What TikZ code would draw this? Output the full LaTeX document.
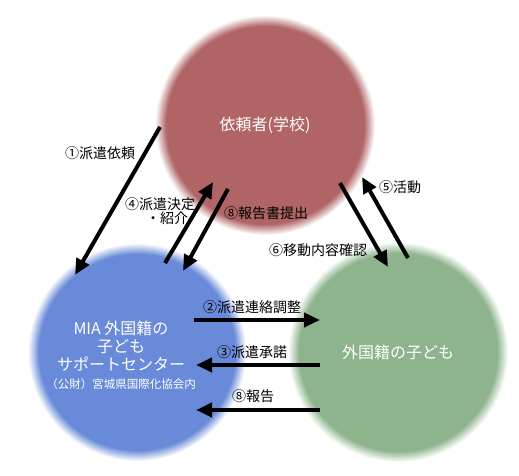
\documentclass[tikz,border=0pt]{standalone}
\usepackage{fontspec}
\setmainfont{Noto Sans CJK JP}
\usepackage{tikz}
\usetikzlibrary{arrows.meta, positioning, calc}
\definecolor{REQ}{HTML}{B06466}
\definecolor{MIA}{HTML}{688AD8}
\definecolor{KID}{HTML}{8DB48D}
% soft edged discs, full colour up to 22.5bp then fading out to white
\pgfdeclareradialshading{REQfade}{\pgfpoint{0bp}{0bp}}{color(0bp)=(REQ);color(22.5bp)=(REQ);color(25bp)=(white);color(50bp)=(white)}
\pgfdeclareradialshading{MIAfade}{\pgfpoint{0bp}{0bp}}{color(0bp)=(MIA);color(22.5bp)=(MIA);color(25bp)=(white);color(50bp)=(white)}
\pgfdeclareradialshading{KIDfade}{\pgfpoint{0bp}{0bp}}{color(0bp)=(KID);color(22.5bp)=(KID);color(25bp)=(white);color(50bp)=(white)}
\tikzset{
  party/.style={% Style for the three round parties
      circle,
      minimum size=220pt,
      inner sep=0pt,
      align=center,
      text=white,
      font=\fontsize{16}{18}\selectfont,
      shade,
      shading=#1fade,
  },
  flow/.style={% Style for the thick arrows
      line width=4pt,
      -{Triangle[length=16pt,width=14pt]},
  },
  tag/.style={% Style for the arrow labels
      font=\fontsize{14}{14}\selectfont,
      text=black,
      inner sep=0pt,
      align=center,
  },
}

\begin{document}
\begin{tikzpicture}[x=1pt, y=-1pt]
    \useasboundingbox (0,0) rectangle (519,476);
    % the three parties
    \node[party=REQ] (school) at (265,125) {依頼者(学校)};
    \node[party=MIA, minimum size=218pt] (mia) at (137,352) {};
    \node[party=KID] (child) at (398,352) {外国籍の子ども};
    \node[text=white, align=center, font=\fontsize{16}{18}\selectfont] (miatext) at (121,355) {%
      MIA 外国籍の\\子ども\\サポートセンター\\
      {\fontsize{11.5}{18}\selectfont （公財）宮城県国際化協会内}};
    % arrow ends
    \coordinate (s1) at (160,127); \coordinate (m1) at (75,275);
    \coordinate (m4) at (165,263); \coordinate (s4) at (213,182);
    \coordinate (s8) at (228,189); \coordinate (m8) at (183,271);
    \coordinate (s6) at (340,183); \coordinate (c6) at (388,267);
    \coordinate (c5) at (408,258); \coordinate (s5) at (362,177);
    \coordinate (m2) at (194,320); \coordinate (c2) at (320,320);
    \coordinate (c3) at (320,365); \coordinate (m3) at (196,365);
    \coordinate (c9) at (320,410); \coordinate (m9) at (196,410);
    \draw[flow] (s1) -- (m1);
    \draw[flow] (m4) -- (s4);
    \draw[flow] (s8) -- (m8);
    \draw[flow] (s6) -- (c6);
    \draw[flow] (c5) -- (s5);
    \draw[flow] (m2) -- (c2);
    \draw[flow] (c3) -- (m3);
    \draw[flow] (c9) -- (m9);
    % labels
    \node[tag] (t1) at (100,153) {①派遣依頼};
    \node[tag] (t4) at (160,211) {④派遣決定\\\hspace*{1em}・紹介};
    \node[tag] (t8) at (266,213) {⑧報告書提出};
    \node[tag] (t6) at (318,250) {⑥移動内容確認};
    \node[tag] (t5) at (400,187) {⑤活動};
    \node[tag] (t2) at (252,307) {②派遣連絡調整};
    \node[tag] (t3) at (252,352) {③派遣承諾};
    \node[tag] (t9) at (253,396) {⑧報告};
\end{tikzpicture}
\end{document}
